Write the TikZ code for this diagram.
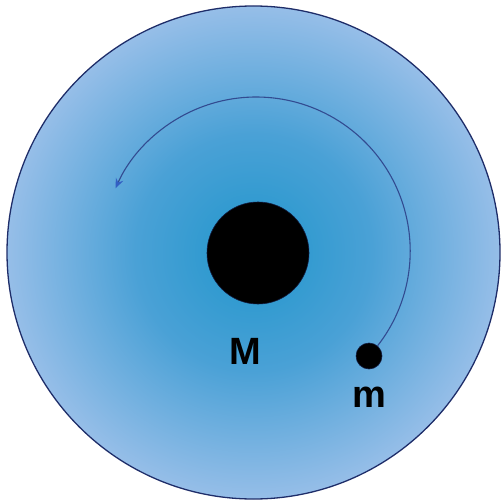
\documentclass[tikz,border=0pt]{standalone}
\usepackage{fontspec}
\setmainfont{Liberation Sans}
\usetikzlibrary{arrows.meta}
\definecolor{glowA}{RGB}{33,150,204}
\definecolor{glowB}{RGB}{74,161,214}
\definecolor{glowC}{RGB}{150,190,232}
\definecolor{rim}{RGB}{30,45,105}
\definecolor{orbitc}{RGB}{50,75,145}
\definecolor{tipc}{RGB}{50,95,195}
\pgfdeclareradialshading{glow}{\pgfpoint{0bp}{0bp}}{color(0bp)=(glowA); color(12bp)=(glowB); color(25bp)=(glowC); color(50bp)=(glowC)}
\tikzset{
  field/.style={circle, draw=rim, line width=1.3pt, shading=glow, minimum size=493pt, inner sep=0pt},
  mass/.style={circle, fill=black, draw=rim!60!black, line width=0.6pt, inner sep=0pt},
  lbl/.style={font=\fontsize{38}{40}\selectfont\bfseries, text=black, inner sep=0pt},
  orbit/.style={draw=orbitc, line width=1.1pt, -{Stealth[length=10pt, width=8pt, inset=3.5pt, color=tipc]}}
}
\begin{document}
\begin{tikzpicture}[x=1pt, y=1pt]
\useasboundingbox (0,0) rectangle (502,501);
\node[field] (F) at (253.5,248.5) {};
\node[mass, minimum size=102pt] (M) at (258,248) {};
\node[mass, minimum size=26pt] (m) at (369,145) {};
\node[lbl] (LM) at (245,150) {M};
\node[lbl] (Lm) at (369,104) {m};
\draw[orbit] (m.50) arc[start angle=-38, end angle=156, radius=154];
\end{tikzpicture}
\end{document}
